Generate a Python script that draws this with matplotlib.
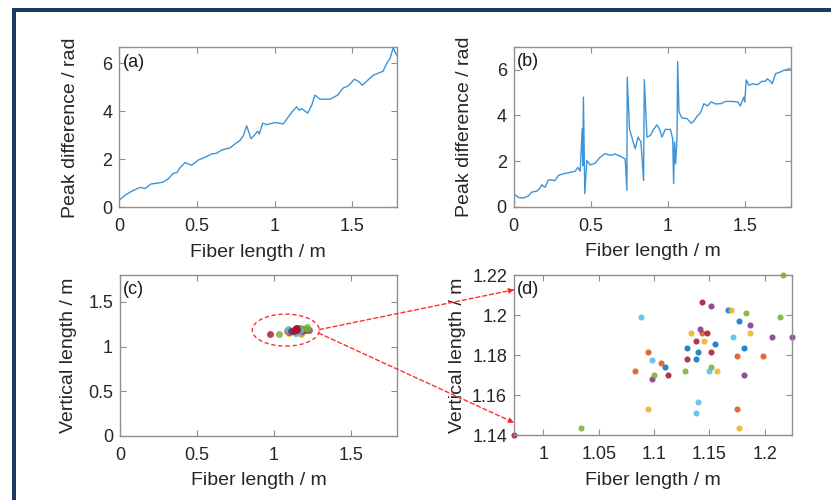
import matplotlib
matplotlib.use("Agg")
import matplotlib.pyplot as plt
import numpy as np
from matplotlib.patches import Ellipse, Rectangle, ConnectionPatch

plt.rcParams["font.family"] = ["Liberation Sans", "DejaVu Sans"]

# ---------- data ----------
# (a) peak difference along the fiber
len_a = [0.005, 0.037, 0.08, 0.133, 0.165, 0.204, 0.24, 0.283, 0.316, 0.348, 0.37, 0.39,
         0.423, 0.466, 0.509, 0.552, 0.595, 0.627, 0.66, 0.713, 0.745, 0.777, 0.798, 0.82,
         0.848, 0.874, 0.891, 0.901, 0.923, 0.949, 1.003, 1.056, 1.099, 1.131, 1.142, 1.159,
         1.174, 1.213, 1.239, 1.26, 1.292, 1.357, 1.406, 1.442, 1.474, 1.513, 1.539, 1.565,
         1.593, 1.636, 1.7, 1.706, 1.728, 1.743, 1.764, 1.775, 1.79]
peak_a = [0.33, 0.5, 0.67, 0.83, 0.78, 0.97, 1.0, 1.05, 1.19, 1.42, 1.44, 1.64,
          1.86, 1.75, 1.97, 2.08, 2.22, 2.25, 2.39, 2.47, 2.64, 2.78, 2.97, 3.39,
          2.86, 3.03, 3.17, 3.05, 3.5, 3.44, 3.53, 3.47, 3.86, 4.11, 4.18, 4.04,
          4.11, 3.92, 4.25, 4.67, 4.5, 4.5, 4.67, 4.97, 5.05, 5.33, 5.25, 5.08,
          5.25, 5.5, 5.67, 5.78, 6.05, 6.19, 6.65, 6.47, 6.3]

# (b) peak difference with phase jumps
len_b = [0.0, 0.03, 0.062, 0.095, 0.117, 0.149, 0.171, 0.182, 0.203, 0.225, 0.247, 0.268,
         0.29, 0.322, 0.344, 0.377, 0.398, 0.416, 0.431, 0.444, 0.448, 0.452, 0.461, 0.474,
         0.496, 0.528, 0.561, 0.593, 0.626, 0.658, 0.691, 0.723, 0.734, 0.736, 0.751, 0.766,
         0.788, 0.806, 0.825, 0.842, 0.847, 0.864, 0.886, 0.907, 0.929, 0.946, 0.961, 0.983,
         1.016, 1.031, 1.037, 1.043, 1.05, 1.059, 1.063, 1.072, 1.091, 1.124, 1.15, 1.167,
         1.189, 1.211, 1.233, 1.258, 1.28, 1.308, 1.341, 1.373, 1.416, 1.453, 1.47, 1.481,
         1.492, 1.498, 1.508, 1.525, 1.547, 1.579, 1.611, 1.633, 1.644, 1.665, 1.676, 1.698,
         1.73, 1.752, 1.785, 1.8]
peak_b = [0.58, 0.42, 0.39, 0.48, 0.65, 0.69, 0.83, 0.97, 0.86, 1.18, 1.18, 1.15,
          1.38, 1.45, 1.48, 1.53, 1.56, 1.73, 1.56, 3.41, 1.8, 4.8, 0.58, 2.03,
          1.84, 1.91, 2.18, 2.33, 2.26, 2.31, 2.22, 2.1, 0.73, 5.67, 3.41, 3.05,
          2.54, 3.05, 2.84, 1.16, 5.56, 3.05, 3.12, 3.39, 3.59, 3.39, 3.05, 3.39,
          3.39, 2.98, 1.02, 2.84, 1.89, 3.05, 6.35, 4.14, 3.89, 3.86, 3.66, 3.74,
          3.97, 4.11, 4.51, 4.41, 4.59, 4.5, 4.51, 4.61, 4.61, 4.59, 4.41, 4.61,
          4.8, 4.59, 5.55, 5.31, 5.38, 5.34, 5.49, 5.49, 5.6, 5.49, 5.38, 5.82,
          5.9, 5.97, 6.03, 6.03]

# (c)/(d) measured positions, grouped by colour
pts_blue = ([1.167, 1.1767, 1.13, 1.1555, 1.1399, 1.1812, 1.1378, 1.1103],
            [1.2025, 1.197, 1.1837, 1.1855, 1.1817, 1.1837, 1.178, 1.1742])
pts_orange = ([1.0829, 1.0947, 1.1064, 1.1438, 1.1751, 1.1986, 1.1751],
              [1.1722, 1.1817, 1.176, 1.1911, 1.1798, 1.1798, 1.153])
pts_yellow = ([1.1694, 1.1869, 1.1338, 1.1456, 1.1573, 1.0947, 1.1769],
              [1.2025, 1.1911, 1.1911, 1.1873, 1.1722, 1.153, 1.1435])
pts_purple = ([1.1516, 1.1869, 1.1417, 1.2065, 1.2247, 1.0986, 1.1812],
              [1.2047, 1.195, 1.193, 1.1893, 1.1893, 1.1683, 1.1702])
pts_green = ([1.2165, 1.183, 1.214, 1.1004, 1.1278, 1.1516, 1.0338],
             [1.22, 1.2008, 1.1988, 1.1702, 1.1722, 1.1742, 1.1435])
pts_cyan = ([1.0886, 1.1712, 1.0986, 1.1495, 1.1399, 1.1378],
            [1.1988, 1.1893, 1.1778, 1.1722, 1.1568, 1.151])
pts_darkred = ([0.9735, 1.1438, 1.1477, 1.1378, 1.1516, 1.13, 1.1125],
               [1.14, 1.2065, 1.1911, 1.1873, 1.1817, 1.178, 1.1702])

groups = [(pts_blue, "#0072BD"), (pts_orange, "#D95319"), (pts_yellow, "#EDB120"),
          (pts_purple, "#7E2F8E"), (pts_green, "#77AC30"), (pts_cyan, "#4DBEEE"),
          (pts_darkred, "#A2142F")]

# ---------- figure ----------
fig = plt.figure(figsize=(8.31, 5.0), dpi=100)
W, H = 831.0, 500.0


def px_axes(left, top, right, bottom):
    return fig.add_axes([left / W, 1 - bottom / H, (right - left) / W, (bottom - top) / H])


ax_a = px_axes(119.3, 47.3, 397.3, 207.3)
ax_b = px_axes(513.7, 46.7, 791.3, 207.0)
ax_c = px_axes(120.0, 275.0, 397.3, 436.0)
ax_d = px_axes(514.0, 275.0, 792.0, 435.3)

txt_col = "#262626"


def style(ax, label):
    for s in ax.spines.values():
        s.set_color("#8f8f8f")
        s.set_linewidth(1.0)
    ax.tick_params(direction="in", top=True, right=True, length=4, width=0.8,
                   color="#8f8f8f", labelcolor=txt_col, labelsize=13, pad=5)
    ax.tick_params(axis="x", pad=8)
    ax.set_xlabel("Fiber length / m", fontsize=14, color=txt_col, labelpad=6)
    ax.text(0.012, 0.96, label, transform=ax.transAxes, fontsize=13,
            color="#1a1a1a", ha="left", va="top")


line_col = "#3D94D6"
ax_a.plot(len_a, peak_a, color=line_col, lw=1.0)
ax_a.set_xlim(0, 1.79)
ax_a.set_ylim(0, 6.66)
ax_a.set_xticks([0, 0.5, 1, 1.5])
ax_a.set_yticks([0, 2, 4, 6])
ax_a.set_xticklabels(["0", "0.5", "1", "1.5"])
ax_a.set_ylabel("Peak difference / rad", fontsize=14, color=txt_col, labelpad=17)
style(ax_a, "(a)")

ax_b.plot(len_b, peak_b, color=line_col, lw=1.0)
ax_b.set_xlim(0, 1.8)
ax_b.set_ylim(0, 7)
ax_b.set_xticks([0, 0.5, 1, 1.5])
ax_b.set_yticks([0, 2, 4, 6])
ax_b.set_xticklabels(["0", "0.5", "1", "1.5"])
ax_b.set_ylabel("Peak difference / rad", fontsize=14, color=txt_col, labelpad=17)
style(ax_b, "(b)")

for (xs, ys), col in groups:
    ax_c.plot(xs, ys, ls="none", marker="o", ms=5, mew=0, color=col, alpha=0.8)
    ax_d.plot(xs, ys, ls="none", marker="o", ms=4.4, mew=0, color=col, alpha=0.85,
              clip_on=False)

ax_c.set_xlim(0, 1.8)
ax_c.set_ylim(0, 1.8)
ax_c.set_xticks([0, 0.5, 1, 1.5])
ax_c.set_yticks([0, 0.5, 1, 1.5])
ax_c.set_xticklabels(["0", "0.5", "1", "1.5"])
ax_c.set_yticklabels(["0", "0.5", "1", "1.5"])
ax_c.set_ylabel("Vertical length / m", fontsize=14, color=txt_col, labelpad=8)
style(ax_c, "(c)")

all_x = np.concatenate([g[0][0] for g in groups])
ax_d.set_xlim(all_x.min(), all_x.max())
ax_d.set_ylim(1.14, 1.22)
ax_d.set_xticks([1, 1.05, 1.1, 1.15, 1.2])
ax_d.set_xticklabels(["1", "1.05", "1.1", "1.15", "1.2"])
ax_d.set_yticks([1.14, 1.16, 1.18, 1.2, 1.22])
ax_d.set_yticklabels(["1.14", "1.16", "1.18", "1.2", "1.22"])
ax_d.set_ylabel("Vertical length / m", fontsize=14, color=txt_col, labelpad=4)
style(ax_d, "(d)")

# zoom ellipse and connecting arrows
ax_c.add_patch(Ellipse((1.076, 1.184), 0.435, 0.357, fill=False, ec="#ff3030",
                       ls=(0, (3, 2)), lw=1.0))
for start, end in [((1.294, 1.19), (0.0, 0.908)), ((1.29, 1.15), (0.0, 0.079))]:
    line = ConnectionPatch(xyA=start, coordsA=ax_c.transData, xyB=end, coordsB=ax_d.transAxes,
                           arrowstyle="-", color="#ff3030", lw=1.0, ls=(0, (3, 2)))
    fig.add_artist(line)
    head = ConnectionPatch(xyA=start, coordsA=ax_c.transData,
                           xyB=end, coordsB=ax_d.transAxes, arrowstyle="-|>",
                           mutation_scale=11, color="#ff2020", lw=0, shrinkA=0, shrinkB=0)
    fig.add_artist(head)

# navy frame
navy = "#1F3864"
fig.add_artist(Rectangle((12 / W, -0.01), 4 / W, (500 - 8) / H + 0.01, transform=fig.transFigure,
                         color=navy, lw=0))
fig.add_artist(Rectangle((12 / W, 1 - 12 / H), 1.0, 4 / H, transform=fig.transFigure,
                         color=navy, lw=0))

fig.savefig("out.png", dpi=100)
